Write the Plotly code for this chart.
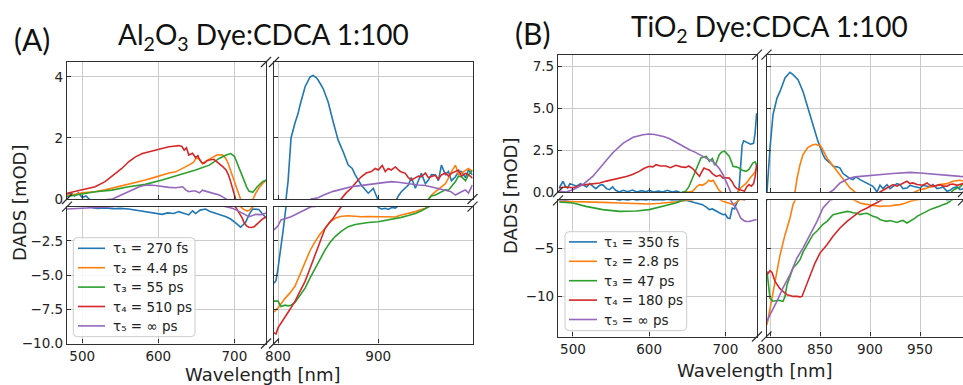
import plotly.graph_objects as go

W, H = 963, 385

COLORS = ["#1f77b4", "#ff7f0e", "#2ca02c", "#d62728", "#9467bd"]
A_LABELS = ["τ₁ = 270 fs", "τ₂ = 4.4 ps", "τ₃ = 55 ps", "τ₄ = 510 ps", "τ₅ = ∞ ps"]
B_LABELS = ["τ₁ = 350 fs", "τ₂ = 2.8 ps", "τ₃ = 47 ps", "τ₄ = 180 ps", "τ₅ = ∞ ps"]

# ---------------- Panel A (Al2O3), visible range ----------------
A_T1_VIS_WL = [480, 485, 490, 495, 500, 505, 509, 515, 520, 530, 540, 550, 561, 570, 583, 590, 598, 605, 612, 620, 627, 633, 640, 645, 649, 655, 662, 668, 675, 682, 689, 695, 702, 708, 712, 715, 720, 724, 732, 737, 742]
A_T1_VIS = [0.15, 0.2, 0.1, 0.2, 0.05, 0.1, 0.0, -0.1, -0.12, -0.1, -0.15, -0.12, -0.17, -0.25, -0.36, -0.4, -0.5, -0.56, -0.45, -0.5, -0.36, -0.45, -0.6, -0.3, -0.5, -0.25, -0.17, -0.35, -0.5, -0.6, -0.73, -0.9, -1.2, -1.5, -1.3, -1.1, -0.5, -0.17, -0.2, -0.5, -0.85]
A_T2_VIS_WL = [480, 490, 500, 517, 530, 539, 550, 561, 572, 583, 594, 605, 614, 623, 632, 640, 646, 650, 654, 658, 663, 667, 672, 677, 684, 688, 691, 694, 697, 701, 704, 708, 712, 717, 720, 724, 728, 732, 737, 742]
A_T2_VIS = [0.13, 0.15, 0.2, 0.24, 0.3, 0.35, 0.42, 0.48, 0.55, 0.62, 0.7, 0.79, 0.85, 0.89, 1.0, 1.11, 1.2, 1.35, 1.3, 1.15, 1.25, 1.3, 1.38, 1.44, 1.45, 1.35, 1.22, 1.0, 0.79, 0.5, 0.24, 0.0, -0.2, -0.32, -0.25, 0.0, 0.19, 0.35, 0.51, 0.62]
A_T3_VIS_WL = [480, 490, 500, 517, 539, 561, 583, 605, 627, 649, 667, 680, 689, 695, 700, 703, 706, 710, 713, 716, 719, 724, 727, 730, 737, 742]
A_T3_VIS = [0.08, 0.12, 0.18, 0.24, 0.29, 0.4, 0.48, 0.62, 0.79, 0.95, 1.11, 1.33, 1.44, 1.49, 1.4, 1.2, 1.0, 0.75, 0.57, 0.4, 0.26, 0.22, 0.3, 0.4, 0.57, 0.62]
A_T4_VIS_WL = [480, 490, 500, 510, 517, 530, 544, 552, 561, 570, 579, 588, 596, 605, 614, 620, 627, 631, 634, 637, 640, 645, 649, 652, 654, 657, 660, 664, 667, 673, 680, 685, 689, 692, 695, 698, 702, 706, 710, 713, 716, 719, 722, 726, 729, 732, 737, 742]
A_T4_VIS = [0.19, 0.25, 0.3, 0.35, 0.4, 0.57, 0.84, 1.0, 1.22, 1.38, 1.49, 1.55, 1.6, 1.66, 1.71, 1.73, 1.75, 1.72, 1.6, 1.68, 1.44, 1.5, 1.35, 1.42, 1.3, 1.2, 1.17, 1.25, 1.28, 1.3, 1.17, 1.05, 0.95, 0.8, 0.57, 0.3, 0.0, -0.36, -0.8, -1.2, -1.4, -1.5, -1.52, -1.46, -1.3, -1.1, -0.9, -0.73]
A_T5_VIS_WL = [480, 490, 500, 510, 520, 530, 540, 544, 550, 555, 561, 568, 575, 581, 588, 596, 605, 614, 623, 628, 632, 636, 640, 645, 649, 654, 658, 663, 667, 673, 680, 685, 689, 693, 697, 703, 711, 715, 719, 724, 728, 733, 737, 742]
A_T5_VIS = [-0.17, -0.15, -0.12, -0.08, -0.05, -0.02, 0.0, 0.05, 0.12, 0.18, 0.24, 0.32, 0.4, 0.44, 0.46, 0.44, 0.4, 0.38, 0.37, 0.4, 0.4, 0.3, 0.24, 0.26, 0.26, 0.2, 0.29, 0.25, 0.22, 0.18, 0.13, 0.06, 0.0, -0.05, -0.12, -0.25, -0.5, -0.62, -0.73, -0.65, -0.56, -0.58, -0.56, -0.45]

# ---------------- Panel A (Al2O3), NIR range ----------------
A_T1_NIR_WL = [796, 798, 800, 803, 805, 808, 810, 813, 817, 820, 822, 827, 832, 835, 838, 840, 845, 850, 855, 860, 865, 870, 874, 877, 883, 887, 890, 895, 898, 900, 903, 907, 910, 914, 917, 920, 923, 927, 930, 933, 937, 940, 943, 947, 950, 953, 957, 960, 963, 967, 970, 973, 977, 980, 983, 987, 990, 994]
A_T1_NIR = [-5.6, -5.4, -4.5, -3.0, -1.8, 0.0, 0.57, 2.0, 2.5, 2.8, 3.08, 3.68, 4.0, 4.05, 3.98, 3.9, 3.62, 3.18, 2.53, 1.93, 1.55, 1.11, 1.0, 0.79, 0.46, 0.3, 0.19, 0.35, 0.1, -0.05, -0.17, -0.12, -0.2, -0.05, -0.1, 0.1, 0.24, 0.35, 0.46, 0.7, 0.35, 0.6, 0.84, 0.5, 0.62, 0.8, 0.79, 0.6, 1.11, 0.8, 0.9, 0.6, 0.73, 0.9, 0.9, 0.7, 0.95, 0.79]
A_T2_NIR_WL = [796, 800, 807, 812, 817, 822, 827, 832, 837, 842, 847, 852, 857, 862, 870, 877, 883, 890, 900, 908, 917, 922, 927, 932, 937, 942, 947, 950, 953, 957, 963, 967, 970, 973, 977, 980, 983, 987, 990, 994]
A_T2_NIR = [-7.7, -7.4, -6.7, -6.3, -5.8, -4.9, -4.0, -3.2, -2.55, -2.0, -1.58, -1.1, -0.85, -0.72, -0.66, -0.7, -0.73, -0.72, -0.75, -0.72, -0.75, -0.62, -0.56, -0.45, -0.36, -0.25, -0.12, 0.0, 0.12, 0.24, 0.4, 0.5, 0.68, 0.9, 1.11, 0.8, 0.85, 0.95, 1.0, 0.9]
A_T3_NIR_WL = [796, 800, 803, 807, 810, 813, 817, 822, 827, 832, 837, 842, 847, 852, 857, 863, 870, 877, 883, 890, 900, 910, 917, 923, 930, 937, 943, 950, 953, 957, 963, 967, 970, 973, 977, 980, 983, 987, 990, 994]
A_T3_NIR = [-6.9, -6.9, -7.3, -7.2, -7.25, -7.2, -7.0, -6.5, -5.95, -5.2, -4.5, -3.8, -3.16, -2.6, -2.18, -1.8, -1.46, -1.3, -1.21, -1.15, -1.1, -0.98, -0.9, -0.78, -0.65, -0.5, -0.3, 0.0, 0.1, 0.13, 0.24, 0.3, 0.29, 0.4, 0.57, 0.75, 0.73, 0.6, 0.79, 0.95]
A_T4_NIR_WL = [796, 798, 800, 807, 812, 817, 822, 827, 832, 837, 842, 847, 851, 855, 859, 863, 868, 873, 878, 883, 888, 893, 897, 900, 904, 907, 910, 913, 917, 922, 927, 930, 933, 937, 940, 943, 947, 950, 953, 957, 960, 963, 967, 970, 973, 977, 980, 983, 987, 990, 994]
A_T4_NIR = [-9.2, -9.3, -8.86, -8.1, -7.5, -6.9, -6.2, -5.46, -4.5, -3.5, -2.5, -1.58, -1.2, -0.85, -0.4, 0.0, 0.2, 0.35, 0.55, 0.73, 0.85, 0.9, 1.0, 0.95, 1.1, 0.9, 1.0, 0.95, 1.05, 0.9, 0.84, 0.7, 0.62, 0.7, 0.75, 0.73, 0.85, 0.7, 0.73, 0.78, 0.65, 0.79, 0.85, 0.75, 0.84, 0.9, 0.95, 0.75, 0.84, 0.8, 0.68]
A_T5_NIR_WL = [796, 800, 803, 808, 813, 818, 823, 828, 833, 837, 840, 845, 850, 855, 860, 867, 873, 880, 887, 893, 900, 907, 913, 920, 927, 933, 940, 947, 953, 960, 967, 972, 977, 980, 983, 987, 990, 994]
A_T5_NIR = [-1.7, -1.4, -0.97, -0.85, -0.73, -0.55, -0.36, -0.18, 0.0, 0.02, 0.04, 0.12, 0.19, 0.25, 0.29, 0.35, 0.4, 0.43, 0.46, 0.48, 0.51, 0.55, 0.57, 0.55, 0.51, 0.5, 0.46, 0.44, 0.4, 0.35, 0.29, 0.25, 0.13, 0.2, 0.24, 0.3, 0.19, 0.46]

# ---------------- Panel B (TiO2), visible range ----------------
B_T1_VIS_WL = [482, 485, 487, 490, 493, 496, 500, 505, 510, 513, 518, 522, 526, 530, 535, 539, 544, 548, 552, 556, 561, 566, 572, 578, 584, 590, 596, 600, 606, 612, 618, 624, 630, 636, 642, 648, 653, 657, 663, 670, 675, 679, 683, 688, 692, 697, 700, 703, 706, 709, 712, 714, 716, 718, 720, 722, 724, 728, 733, 737, 739, 741]
B_T1_VIS = [0.24, 0.5, 0.64, 0.35, 0.24, 0.5, 0.44, 0.35, 0.5, 0.42, 0.3, 0.5, 0.34, 0.2, 0.4, 0.44, 0.2, 0.14, 0.3, 0.1, 0.0, 0.1, 0.02, 0.12, 0.0, 0.08, 0.02, 0.1, 0.0, 0.05, 0.0, 0.1, 0.0, 0.05, -0.05, 0.0, -0.1, -0.17, -0.3, -0.45, -0.7, -0.97, -0.9, -1.15, -1.3, -1.5, -1.45, -1.84, -1.9, -0.8, -0.9, -0.45, -0.1, 0.24, 1.5, 2.8, 3.05, 2.95, 2.85, 2.9, 3.5, 4.7]
B_T2_VIS_WL = [482, 500, 517, 540, 561, 580, 600, 615, 627, 640, 648, 652, 657, 662, 666, 670, 675, 678, 681, 684, 688, 691, 694, 697, 701, 706, 710, 713, 716, 718, 720, 724, 727, 732, 736, 739, 741]
B_T2_VIS = [-0.1, -0.12, -0.17, -0.22, -0.28, -0.33, -0.38, -0.3, -0.25, -0.12, 0.0, 0.0, 0.04, 0.3, 0.44, 0.4, 0.54, 0.7, 0.64, 0.7, 0.34, 0.15, 0.0, -0.1, -0.2, -0.35, -0.45, -0.3, -0.1, 0.1, 0.24, 0.4, 0.5, 0.8, 1.03, 1.2, 1.43]
B_T3_VIS_WL = [482, 500, 517, 539, 561, 583, 600, 618, 635, 644, 648, 652, 655, 658, 662, 665, 668, 672, 675, 679, 683, 686, 688, 692, 695, 699, 702, 705, 708, 710, 714, 718, 722, 727, 731, 736, 739, 741]
B_T3_VIS = [-0.17, -0.28, -0.63, -0.97, -1.15, -1.12, -0.97, -0.63, -0.28, 0.0, 0.05, 0.3, 0.64, 1.0, 1.43, 1.8, 2.03, 2.1, 2.13, 1.83, 2.0, 1.6, 1.73, 2.23, 2.38, 2.43, 2.3, 2.13, 1.8, 1.53, 1.5, 1.43, 1.3, 1.23, 1.35, 1.73, 1.8, 1.6]
B_T4_VIS_WL = [482, 490, 500, 510, 517, 526, 535, 544, 552, 560, 570, 578, 587, 593, 600, 605, 609, 615, 622, 628, 635, 642, 648, 652, 657, 661, 666, 669, 672, 676, 679, 683, 688, 693, 697, 701, 705, 709, 712, 715, 718, 722, 725, 728, 731, 734, 737, 739, 741]
B_T4_VIS = [0.24, 0.3, 0.25, 0.4, 0.44, 0.5, 0.54, 0.65, 0.74, 0.8, 0.93, 1.05, 1.23, 1.4, 1.53, 1.5, 1.63, 1.55, 1.55, 1.45, 1.59, 1.5, 1.47, 1.55, 1.4, 1.2, 0.93, 1.2, 1.43, 1.35, 1.3, 1.1, 0.93, 1.0, 0.83, 0.85, 0.83, 0.6, 0.34, 0.2, 0.14, 0.1, 0.05, 0.3, 0.44, 0.35, 0.5, 0.9, 1.63]
B_T5_VIS_WL = [482, 491, 500, 513, 526, 539, 552, 566, 579, 592, 600, 607, 614, 620, 627, 634, 640, 647, 653, 660, 666, 673, 679, 684, 688, 692, 697, 700, 703, 705, 707, 710, 714, 717, 720, 724, 727, 731, 736, 741]
B_T5_VIS = [0.04, 0.0, 0.14, 0.44, 0.93, 1.63, 2.33, 2.92, 3.26, 3.42, 3.46, 3.43, 3.36, 3.3, 3.18, 3.0, 2.82, 2.68, 2.52, 2.38, 2.23, 2.08, 1.93, 1.8, 1.63, 1.4, 1.03, 0.75, 0.44, 0.2, 0.0, -0.4, -0.8, -1.3, -1.84, -2.1, -2.19, -2.2, -2.12, -2.0]

# ---------------- Panel B (TiO2), NIR range ----------------
B_T1_NIR_WL = [797, 798, 800, 803, 807, 810, 815, 820, 823, 828, 833, 838, 843, 848, 853, 855, 858, 861, 863, 867, 870, 873, 877, 880, 883, 886, 890, 893, 897, 900, 903, 907, 910, 913, 917, 920, 923, 927, 930, 933, 937, 940, 943, 947, 950, 953, 957, 960, 963, 967, 970, 973, 977, 980, 983, 987, 990, 993]
B_T1_NIR = [0.0, 1.0, 2.62, 4.61, 5.6, 6.0, 6.8, 7.14, 7.0, 6.7, 6.0, 5.0, 4.0, 3.02, 2.23, 2.0, 1.83, 1.7, 1.53, 1.5, 1.43, 1.1, 0.93, 0.8, 0.74, 0.9, 0.74, 0.65, 0.54, 0.45, 0.34, 0.0, 0.4, 0.2, 0.44, 0.2, 0.34, 0.5, 0.44, 0.2, 0.24, 0.4, 0.34, 0.3, 0.24, 0.4, 0.34, 0.3, 0.44, 0.2, 0.24, 0.3, 0.04, 0.1, 0.24, 0.3, 0.14, 0.2]
B_T2_NIR_WL = [797, 800, 805, 810, 815, 820, 823, 825, 827, 830, 833, 838, 843, 846, 848, 850, 852, 857, 862, 867, 873, 880, 885, 890, 895, 900, 905, 910, 915, 920, 925, 930, 935, 940, 945, 950, 955, 960, 965, 970, 977, 983, 990, 993]
B_T2_NIR = [-12.95, -11.2, -8.4, -5.7, -3.6, -1.84, -0.45, 0.0, 0.8, 1.63, 2.23, 2.66, 2.82, 2.85, 2.78, 2.8, 2.62, 2.03, 1.63, 1.23, 0.74, 0.24, 0.0, -0.28, -0.4, -0.45, -0.55, -0.63, -0.6, -0.6, -0.5, -0.45, -0.3, -0.1, 0.0, 0.14, 0.2, 0.3, 0.35, 0.44, 0.5, 0.64, 0.7, 0.65]
B_T3_NIR_WL = [797, 798, 800, 803, 808, 813, 815, 817, 820, 823, 827, 830, 833, 837, 840, 843, 847, 850, 853, 857, 860, 863, 867, 870, 873, 877, 880, 883, 887, 890, 893, 897, 900, 903, 907, 910, 913, 917, 920, 923, 927, 930, 933, 937, 940, 942, 945, 947, 950, 953, 957, 960, 963, 967, 970, 973, 977, 980, 983, 987, 990, 993]
B_T3_NIR = [-7.4, -8.5, -10.2, -10.5, -10.4, -10.5, -10.0, -8.8, -7.8, -7.05, -6.6, -6.18, -5.4, -4.62, -4.1, -3.58, -3.2, -2.88, -2.5, -2.19, -1.8, -1.49, -1.4, -1.32, -1.2, -1.15, -1.2, -1.3, -1.35, -1.49, -1.4, -1.35, -1.5, -1.67, -1.8, -2.0, -2.1, -2.19, -2.1, -2.19, -2.3, -2.19, -2.1, -2.36, -2.2, -2.05, -1.85, -1.67, -1.5, -1.32, -1.15, -0.97, -0.85, -0.73, -0.6, -0.45, -0.3, -0.1, 0.1, 0.24, 0.3, 0.5]
B_T4_NIR_WL = [797, 800, 802, 805, 810, 815, 817, 820, 823, 827, 830, 832, 835, 840, 845, 850, 857, 863, 870, 877, 883, 890, 897, 903, 910, 913, 917, 920, 923, 927, 930, 933, 937, 940, 943, 947, 950, 953, 957, 960, 963, 967, 970, 973, 977, 980, 983, 987, 990, 993]
B_T4_NIR = [-7.74, -7.33, -7.5, -8.44, -9.2, -9.6, -9.83, -9.9, -10.0, -10.0, -10.05, -10.0, -9.2, -7.74, -6.53, -5.49, -4.62, -3.75, -2.88, -2.19, -1.67, -1.15, -0.8, -0.45, 0.0, 0.1, 0.24, 0.3, 0.44, 0.35, 0.44, 0.5, 0.64, 0.5, 0.54, 0.45, 0.44, 0.4, 0.54, 0.4, 0.34, 0.4, 0.44, 0.35, 0.34, 0.45, 0.48, 0.4, 0.44, 0.5]
B_T5_NIR_WL = [797, 800, 807, 813, 820, 827, 833, 840, 847, 853, 857, 860, 863, 866, 870, 875, 880, 885, 890, 897, 903, 910, 917, 923, 930, 940, 950, 960, 970, 980, 990, 993]
B_T5_NIR = [-12.6, -11.9, -10.5, -9.1, -7.74, -6.0, -4.97, -3.58, -2.19, -0.8, -0.3, 0.0, 0.1, 0.3, 0.54, 0.7, 0.83, 0.9, 0.93, 0.98, 1.03, 1.05, 1.07, 1.1, 1.13, 1.17, 1.13, 1.07, 1.03, 0.97, 0.93, 0.92]

# ---------------- ticks ----------------
VIS_XTICKS = [500, 600, 700]
A_NIR_XTICKS = [800, 900]
B_NIR_XTICKS = [800, 850, 900, 950]
A_UP_YTICKS = [0, 2, 4]
A_UP_YTEXT = ["0", "2", "4"]
A_LO_YTICKS = [-2.5, -5, -7.5, -10]
A_LO_YTEXT = ["−2.5", "−5.0", "−7.5", "−10.0"]
B_UP_YTICKS = [0, 2.5, 5, 7.5]
B_UP_YTEXT = ["0.0", "2.5", "5.0", "7.5"]
B_LO_YTICKS = [-5, -10]
B_LO_YTEXT = ["−5", "−10"]

A_VIS = [(A_T1_VIS_WL, A_T1_VIS), (A_T2_VIS_WL, A_T2_VIS), (A_T3_VIS_WL, A_T3_VIS), (A_T4_VIS_WL, A_T4_VIS), (A_T5_VIS_WL, A_T5_VIS)]
A_NIR = [(A_T1_NIR_WL, A_T1_NIR), (A_T2_NIR_WL, A_T2_NIR), (A_T3_NIR_WL, A_T3_NIR), (A_T4_NIR_WL, A_T4_NIR), (A_T5_NIR_WL, A_T5_NIR)]
B_VIS = [(B_T1_VIS_WL, B_T1_VIS), (B_T2_VIS_WL, B_T2_VIS), (B_T3_VIS_WL, B_T3_VIS), (B_T4_VIS_WL, B_T4_VIS), (B_T5_VIS_WL, B_T5_VIS)]
B_NIR = [(B_T1_NIR_WL, B_T1_NIR), (B_T2_NIR_WL, B_T2_NIR), (B_T3_NIR_WL, B_T3_NIR), (B_T4_NIR_WL, B_T4_NIR), (B_T5_NIR_WL, B_T5_NIR)]

SPINE = "#303030"
GRID = "#cbcbcb"
TXT = "#222222"
TICKFONT = dict(family="DejaVu Sans", size=13.5, color=TXT)
LINE_W = 1.6


def fx(X):
    return X / W


def fy(Y):
    return 1 - Y / H


fig = go.Figure()

PANELS = {
    "A": dict(xl=(67, 266), xr=(274, 472.5), yu=(62, 199), yd=(206.7, 343.5),
              xlr=[480, 741.5], xrr=[796, 994], yur=[0, 4.49], ydr=[-10, 0],
              nir_ticks=A_NIR_XTICKS, yut=(A_UP_YTICKS, A_UP_YTEXT), ydt=(A_LO_YTICKS, A_LO_YTEXT),
              vis=A_VIS, nir=A_NIR, labels=A_LABELS, base=0,
              legbox=(73.3, 237.7, 195, 336.7), legline=(78, 105), legtext=111,
              legrows=(248.3, 19.4)),
    "B": dict(xl=(558, 757), xr=(766.5, 963), yu=(54.7, 192), yd=(200.3, 336.5),
              xlr=[480.4, 741.5], xrr=[796.5, 993], yur=[0, 8.19], ydr=[-14.17, 0],
              nir_ticks=B_NIR_XTICKS, yut=(B_UP_YTICKS, B_UP_YTEXT), ydt=(B_LO_YTICKS, B_LO_YTEXT),
              vis=B_VIS, nir=B_NIR, labels=B_LABELS, base=4,
              legbox=(565, 231.7, 686.7, 330.7), legline=(569, 597), legtext=602,
              legrows=(241.9, 19.4)),
}

layout = {}


def axis_common():
    return dict(showline=True, mirror=True, linecolor=SPINE, linewidth=1.2,
                ticks="inside", ticklen=4, tickwidth=1, tickcolor=SPINE,
                showgrid=True, gridcolor=GRID, gridwidth=1, zeroline=False,
                tickfont=TICKFONT, fixedrange=True, automargin=False)


for key, P in PANELS.items():
    b = P["base"]
    subs = [
        (1, P["xl"], P["yu"], P["xlr"], P["yur"], VIS_XTICKS, False, P["yut"], True),
        (2, P["xr"], P["yu"], P["xrr"], P["yur"], P["nir_ticks"], False, P["yut"], False),
        (3, P["xl"], P["yd"], P["xlr"], P["ydr"], VIS_XTICKS, True, P["ydt"], True),
        (4, P["xr"], P["yd"], P["xrr"], P["ydr"], P["nir_ticks"], True, P["ydt"], False),
    ]
    for (k, xd, yd, xr, yr, xt, sxl, yt, syl) in subs:
        n = b + k
        xa = axis_common()
        xa.update(domain=[fx(xd[0]), min(1.0, fx(xd[1]))], range=xr, anchor=f"y{n}",
                  tickvals=xt, ticktext=[str(v) for v in xt], showticklabels=sxl)
        ya = axis_common()
        ya.update(domain=[fy(yd[1]), fy(yd[0])], range=yr, anchor=f"x{n}",
                  tickvals=yt[0], ticktext=yt[1], showticklabels=syl)
        layout[f"xaxis{n}"] = xa
        layout[f"yaxis{n}"] = ya

    for i in range(5):
        vx, vy = P["vis"][i]
        nx, ny = P["nir"][i]
        for (k, xs, ys) in [(1, vx, vy), (2, nx, ny), (3, vx, vy), (4, nx, ny)]:
            n = b + k
            fig.add_trace(go.Scatter(
                x=xs, y=ys, mode="lines",
                line=dict(color=COLORS[i], width=LINE_W),
                name=P["labels"][i], showlegend=False,
                xaxis=f"x{n}", yaxis=f"y{n}", hoverinfo="skip"))

shapes = []
ann = []


def slash(cx, cy, d=5):
    shapes.append(dict(type="line", xref="paper", yref="paper",
                       x0=fx(cx - d), y0=fy(cy + d), x1=fx(cx + d), y1=fy(cy - d),
                       line=dict(color=SPINE, width=1.2)))


def add_text(text, X, Y, font, angle=0, xanchor="center"):
    ann.append(dict(text=text, x=fx(X), y=fy(Y), xref="paper", yref="paper",
                    xanchor=xanchor, yanchor="middle", showarrow=False,
                    textangle=angle, font=font))


def rounded_box(x0, y0, x1, y1, r=4):
    pts = [
        f"M {fx(x0 + r)},{fy(y0)}",
        f"L {fx(x1 - r)},{fy(y0)}",
        f"Q {fx(x1)},{fy(y0)} {fx(x1)},{fy(y0 + r)}",
        f"L {fx(x1)},{fy(y1 - r)}",
        f"Q {fx(x1)},{fy(y1)} {fx(x1 - r)},{fy(y1)}",
        f"L {fx(x0 + r)},{fy(y1)}",
        f"Q {fx(x0)},{fy(y1)} {fx(x0)},{fy(y1 - r)}",
        f"L {fx(x0)},{fy(y0 + r)}",
        f"Q {fx(x0)},{fy(y0)} {fx(x0 + r)},{fy(y0)}",
        "Z",
    ]
    shapes.append(dict(type="path", xref="paper", yref="paper", path=" ".join(pts),
                       fillcolor="rgba(255,255,255,0.85)", line=dict(color="#cccccc", width=1),
                       layer="above"))


LEGFONT = dict(family="DejaVu Sans", size=13.5, color=TXT)

for key, P in PANELS.items():
    xl, xr, yu, yd = P["xl"], P["xr"], P["yu"], P["yd"]
    for cx in (xl[1], xr[0]):
        slash(cx, yu[0])
        slash(cx, yd[1])
    for cy in (yu[1], yd[0]):
        slash(xl[0], cy)
        slash(xr[1], cy)
    # legend (drawn as real text and line samples)
    bx0, by0, bx1, by1 = P["legbox"]
    rounded_box(bx0, by0, bx1, by1)
    y_first, dy = P["legrows"]
    for i in range(5):
        yy = y_first + i * dy
        shapes.append(dict(type="line", xref="paper", yref="paper",
                           x0=fx(P["legline"][0]), x1=fx(P["legline"][1]), y0=fy(yy), y1=fy(yy),
                           line=dict(color=COLORS[i], width=LINE_W), layer="above"))
        add_text(P["labels"][i], P["legtext"], yy, LEGFONT, xanchor="left")

add_text("(A)", 32, 39, dict(family="Lato", size=30, color="#111"))
add_text("Al<sub>2</sub>O<sub>3</sub> Dye:CDCA 1:100", 263, 36, dict(family="Lato", size=28, color="#111"))
add_text("(B)", 532, 33, dict(family="Lato", size=30, color="#111"))
add_text("TiO<sub>2</sub> Dye:CDCA 1:100", 769, 28, dict(family="Lato", size=28, color="#111"))
AXT = dict(family="DejaVu Sans", size=18, color=TXT)
add_text("DADS [mOD]", 20, 203, AXT, -90)
add_text("DADS [mOD]", 511, 196, AXT, -90)
add_text("Wavelength [nm]", 263, 374.5, AXT)
add_text("Wavelength [nm]", 755, 370, AXT)

fig.update_layout(**layout)
fig.update_layout(width=W, height=H, margin=dict(l=0, r=0, t=0, b=0),
                  paper_bgcolor="white", plot_bgcolor="white",
                  shapes=shapes, annotations=ann, showlegend=False)

fig.write_html("out.html", include_plotlyjs=True, full_html=True,
               config=dict(displayModeBar=False))
